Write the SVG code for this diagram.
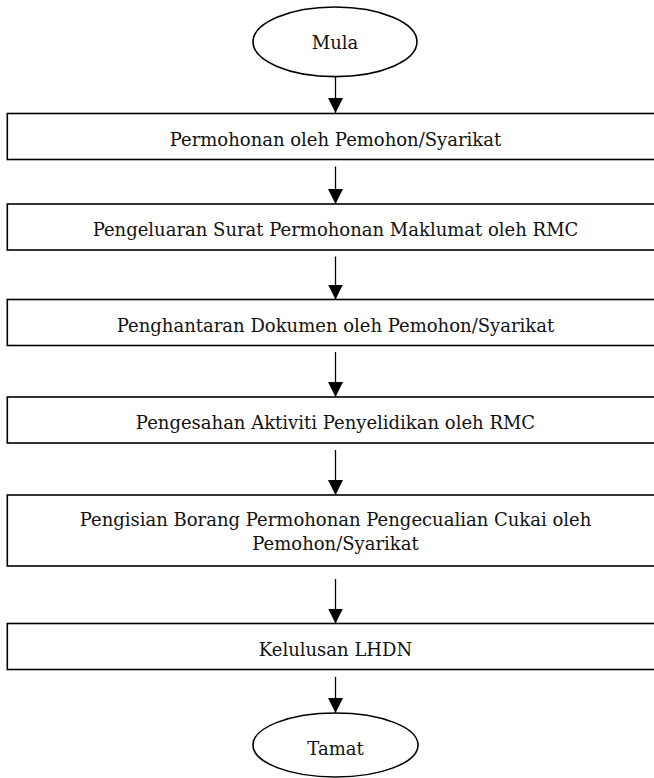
<svg xmlns="http://www.w3.org/2000/svg" width="654" height="778" viewBox="0 0 654 778">
  <defs>
    <marker id="arrow" markerUnits="userSpaceOnUse" markerWidth="16" markerHeight="16" viewBox="0 0 16 16" refX="15" refY="8" orient="auto">
      <path d="M0,0.5 L15,8 L0,15.5 Z" fill="#000"/>
    </marker>
    <style>
      .box { fill: #fff; stroke: #000; stroke-width: 1.6; }
      .term { fill: #fff; stroke: #000; stroke-width: 1.6; }
      .lbl { font-family: "DejaVu Serif", "Liberation Serif", serif; font-size: 18px; fill: #111; text-anchor: middle; }
      .conn { stroke: #000; stroke-width: 1.3; fill: none; marker-end: url(#arrow); }
    </style>
  </defs>
  <rect width="654" height="778" fill="#fff"/>

  <g id="connectors">
    <line class="conn" x1="335.5" y1="77" x2="335.5" y2="113"/>
    <line class="conn" x1="335.5" y1="166.5" x2="335.5" y2="204"/>
    <line class="conn" x1="335.5" y1="256.5" x2="335.5" y2="299.5"/>
    <line class="conn" x1="335.5" y1="352" x2="335.5" y2="397"/>
    <line class="conn" x1="335.5" y1="450" x2="335.5" y2="495"/>
    <line class="conn" x1="335.5" y1="579" x2="335.5" y2="623.5"/>
    <line class="conn" x1="335.5" y1="677" x2="335.5" y2="713"/>
  </g>

  <g id="mula">
    <ellipse class="term" cx="335" cy="41.8" rx="82" ry="34.8"/>
    <text class="lbl" x="335" y="48.5">Mula</text>
  </g>

  <g id="permohonan">
    <rect class="box" x="7.3" y="113.5" width="660" height="46"/>
    <text class="lbl" x="335.5" y="145.7">Permohonan oleh Pemohon/Syarikat</text>
  </g>

  <g id="pengeluaran">
    <rect class="box" x="7.3" y="204" width="660" height="46"/>
    <text class="lbl" x="335.5" y="236">Pengeluaran Surat Permohonan Maklumat oleh RMC</text>
  </g>

  <g id="penghantaran">
    <rect class="box" x="7.3" y="299.5" width="660" height="46"/>
    <text class="lbl" x="335.5" y="331.5">Penghantaran Dokumen oleh Pemohon/Syarikat</text>
  </g>

  <g id="pengesahan">
    <rect class="box" x="7.3" y="397" width="660" height="46"/>
    <text class="lbl" x="335.5" y="429">Pengesahan Aktiviti Penyelidikan oleh RMC</text>
  </g>

  <g id="pengisian">
    <rect class="box" x="7.3" y="495" width="660" height="71"/>
    <text class="lbl" x="335.5" y="525.5">Pengisian Borang Permohonan Pengecualian Cukai oleh</text>
    <text class="lbl" x="335.5" y="549.5">Pemohon/Syarikat</text>
  </g>

  <g id="kelulusan">
    <rect class="box" x="7.3" y="623.5" width="660" height="46"/>
    <text class="lbl" x="335.5" y="655.7">Kelulusan LHDN</text>
  </g>

  <g id="tamat">
    <ellipse class="term" cx="335.5" cy="745" rx="82.5" ry="32"/>
    <text class="lbl" x="335.5" y="755">Tamat</text>
  </g>
</svg>
